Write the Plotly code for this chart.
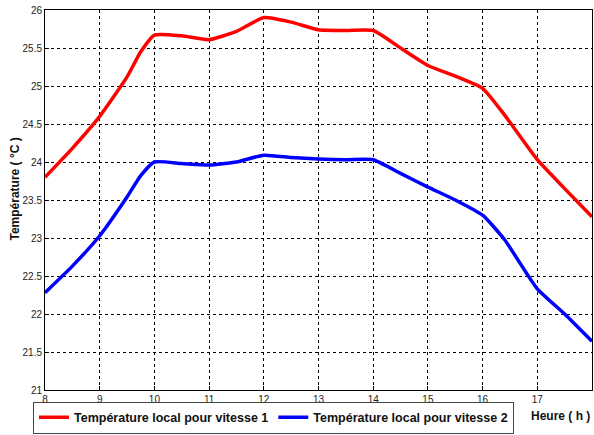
import plotly.graph_objects as go

heures = [8, 8.5, 9, 9.5, 9.75, 10, 10.5, 11, 11.5, 12, 12.5, 13, 13.5, 14, 14.5, 15, 15.5, 16, 16.4, 17, 17.5, 18]
temp_v1 = [23.8, 24.18, 24.6, 25.12, 25.45, 25.67, 25.66, 25.61, 25.72, 25.9, 25.84, 25.74, 25.73, 25.73, 25.5, 25.27, 25.13, 24.97, 24.62, 24.03, 23.65, 23.28]
temp_v2 = [22.28, 22.63, 23.03, 23.54, 23.82, 24.0, 23.98, 23.96, 24.0, 24.09, 24.06, 24.04, 24.03, 24.03, 23.85, 23.67, 23.5, 23.3, 22.98, 22.33, 22.0, 21.64]

x_ticks = [8, 9, 10, 11, 12, 13, 14, 15, 16, 17, 18]
y_ticks = [21, 21.5, 22, 22.5, 23, 23.5, 24, 24.5, 25, 25.5, 26]
y_labels = ["21", "21.5", "22", "22.5", "23", "23.5", "24", "24.5", "25", "25.5", "26"]

fig = go.Figure()
fig.add_trace(go.Scatter(x=heures, y=temp_v1, mode="lines",
                         line=dict(color="#ff0000", width=3.5, shape="spline", smoothing=0.5),
                         name="<b>Température local pour vitesse 1</b>"))
fig.add_trace(go.Scatter(x=heures, y=temp_v2, mode="lines",
                         line=dict(color="#0000ff", width=3.5, shape="spline", smoothing=0.5),
                         name="<b>Température local pour vitesse 2</b>"))

axis_common = dict(showline=True, linecolor="black", linewidth=1, mirror=True,
                   showgrid=True, gridcolor="black", griddash="dot", gridwidth=1,
                   ticks="inside", ticklen=4, tickcolor="black", zeroline=False,
                   tickfont=dict(family="Liberation Sans", size=10, color="#222"))

fig.update_xaxes(range=[8, 18], tickvals=x_ticks, **axis_common)
fig.update_yaxes(range=[21, 26], tickvals=y_ticks, ticktext=y_labels, **axis_common)

fig.update_layout(
    width=594, height=435,
    margin=dict(l=45, r=2, t=10, b=44),
    paper_bgcolor="white", plot_bgcolor="white",
    showlegend=True,
    legend=dict(orientation="h", x=-0.022, y=-0.028, xanchor="left", yanchor="top",
                bordercolor="#444", borderwidth=1, bgcolor="white",
                font=dict(family="Liberation Sans", size=12.5, color="#111"),
                itemwidth=30, tracegroupgap=0),
    annotations=[
        dict(text="<b>Heure ( h )</b>", x=1.0, y=-0.045, xref="paper", yref="paper",
             xanchor="right", yanchor="top", showarrow=False,
             font=dict(family="Liberation Sans", size=12, color="#111")),
        dict(text="<b>Température ( °C )</b>", x=-0.055, y=0.53, xref="paper", yref="paper",
             xanchor="center", yanchor="middle", showarrow=False, textangle=-90,
             font=dict(family="Liberation Sans", size=12, color="#111")),
    ],
)

fig.write_html("out.html", config={"displayModeBar": False},
               post_script="document.body.style.margin='0';document.body.style.overflow='hidden';")
